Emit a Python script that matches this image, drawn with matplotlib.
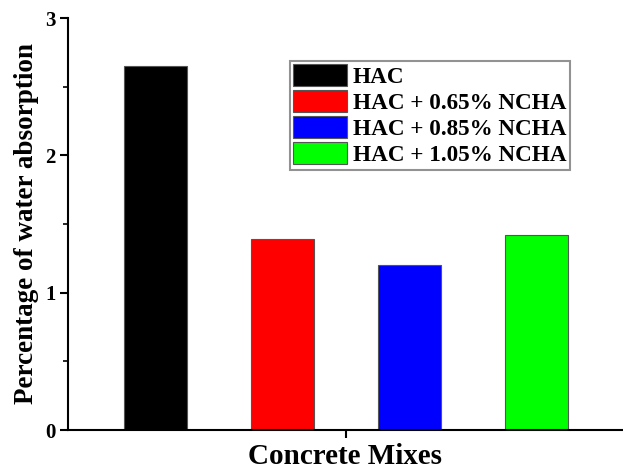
import matplotlib.pyplot as plt
from matplotlib.ticker import MultipleLocator

mixes = ['HAC', 'HAC + 0.65% NCHA', 'HAC + 0.85% NCHA', 'HAC + 1.05% NCHA']
absorption = [2.65, 1.39, 1.20, 1.42]
colors = ['#000000', '#ff0000', '#0000ff', '#00ff00']

plt.rcParams['font.family'] = ['Liberation Serif', 'DejaVu Serif']
plt.rcParams['font.weight'] = 'bold'

fig = plt.figure(figsize=(6.23, 4.69), dpi=100)
ax = fig.add_axes([68 / 623, 39 / 469, 555 / 623, 412 / 469])

pos = [1, 2, 3, 4]
for p, v, c, lab in zip(pos, absorption, colors, mixes):
    ax.bar(p, v, width=0.5, color=c, edgecolor='#555555', linewidth=0.8, label=lab)

ax.set_xlim(0.31, 4.68)
ax.set_ylim(0, 3)
ax.set_xticks([2.5])
ax.set_xticklabels([''])
ax.yaxis.set_major_locator(MultipleLocator(1))
ax.yaxis.set_minor_locator(MultipleLocator(0.5))

for s in ['top', 'right']:
    ax.spines[s].set_visible(False)
for s in ['left', 'bottom']:
    ax.spines[s].set_linewidth(1.5)

ax.tick_params(axis='both', which='major', direction='out', length=6, width=1.5, labelsize=15, pad=3)
ax.tick_params(axis='y', which='minor', direction='out', length=3.5, width=1.2)
for t in ax.get_yticklabels():
    t.set_fontweight('bold')

ax.set_ylabel('Percentage of water absorption', fontsize=19.5, fontweight='bold', labelpad=4)
ax.set_xlabel('Concrete Mixes', fontsize=21, fontweight='bold', labelpad=0)

leg = ax.legend(loc='upper left', bbox_to_anchor=(290 / 623, 1 - 61 / 469),
                bbox_transform=fig.transFigure, frameon=True,
                fancybox=False, borderaxespad=0, borderpad=0.15,
                labelspacing=0.1, handlelength=2.3, handleheight=1.05,
                handletextpad=0.25, prop={'weight': 'bold', 'size': 16.7})
leg.get_frame().set_edgecolor('#777777')
leg.get_frame().set_linewidth(1.5)

fig.savefig('out.png', dpi=100)
